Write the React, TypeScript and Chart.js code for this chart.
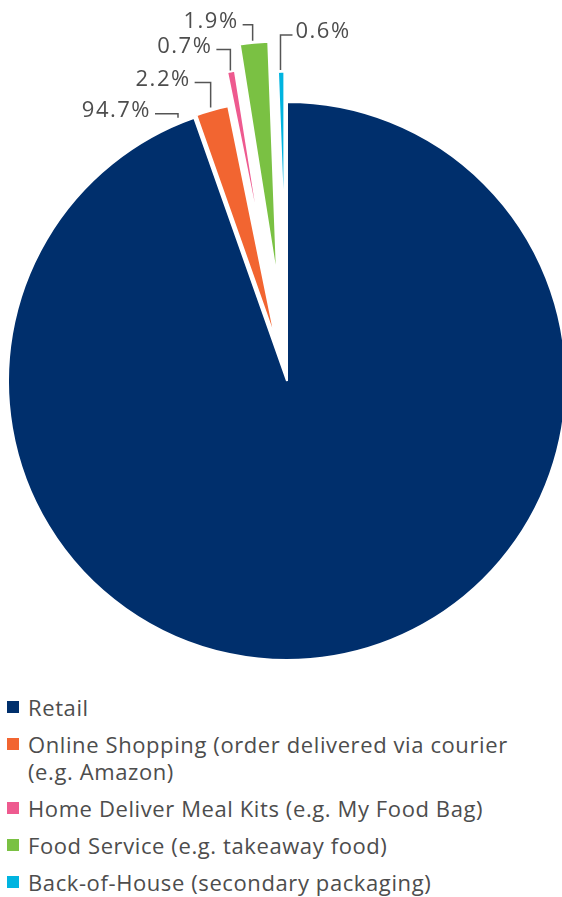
import React, { useEffect, useRef } from 'react';
import { Chart, registerables } from 'chart.js';

Chart.register(...registerables);

// ---- data ----
const categories = [
  'Retail',
  'Online Shopping (order delivered via courier (e.g. Amazon)',
  'Home Deliver Meal Kits (e.g. My Food Bag)',
  'Food Service (e.g. takeaway food)',
  'Back-of-House (secondary packaging)',
];
const shares = [94.7, 2.2, 0.7, 1.9, 0.6];
const valueLabels = ['94.7%', '2.2%', '0.7%', '1.9%', '0.6%'];

// ---- style ----
const colors = ['#002F6C', '#F26531', '#EE5A8F', '#7AC143', '#00B4E0'];
const explodeOffset = [0, 41, 136, 100, 139];
const radiusScale = [1, 0.86, 0.64, 0.86, 0.61];
const labelFrac = [0.991, 0.48, 0.44, 0.46, 0.4];
const labelGap = [6, 3, 1, 2, 2];
const labelRise = [4, 25, 21, 16, 35];
const labelRun = [-23, -16, -14, -10, 12];

const FONT = "'Open Sans', sans-serif";
const TEXT_COLOR = '#4d4d4d';

const explodePlugin = {
  id: 'explodeSlices',
  afterDatasetsUpdate(chart: any) {
    const meta = chart.getDatasetMeta(0);
    meta.data.forEach((el: any, i: number) => {
      const mid = (el.startAngle + el.endAngle) / 2;
      const R = el.outerRadius;
      el.x = el.x + Math.cos(mid) * explodeOffset[i];
      el.y = el.y + Math.sin(mid) * explodeOffset[i];
      el.outerRadius = R * radiusScale[i];
    });
  },
};

const leaderLabelPlugin = {
  id: 'leaderLabels',
  afterDatasetsDraw(chart: any) {
    const ctx = chart.ctx;
    const meta = chart.getDatasetMeta(0);
    ctx.save();
    ctx.strokeStyle = '#555555';
    ctx.lineWidth = 1.5;
    ctx.fillStyle = TEXT_COLOR;
    ctx.font = `400 22px ${FONT}`;
    try {
      (ctx as any).letterSpacing = '1.5px';
    } catch (e) {}
    ctx.textBaseline = 'alphabetic';
    meta.data.forEach((el: any, i: number) => {
      const a = el.startAngle + labelFrac[i] * (el.endAngle - el.startAngle);
      const r = el.outerRadius + labelGap[i];
      const px = el.x + Math.cos(a) * r;
      const py = el.y + Math.sin(a) * r;
      const ey = py - labelRise[i];
      const ex = px + labelRun[i];
      ctx.beginPath();
      ctx.moveTo(px, py);
      ctx.lineTo(px, ey);
      ctx.lineTo(ex, ey);
      ctx.stroke();
      if (labelRun[i] < 0) {
        ctx.textAlign = 'right';
        ctx.fillText(valueLabels[i], ex - 4, ey + 3);
      } else {
        ctx.textAlign = 'left';
        ctx.fillText(valueLabels[i], ex + 3, ey + 3);
      }
    });
    ctx.restore();
  },
};

export default function App() {
  const ref = useRef<HTMLCanvasElement | null>(null);

  useEffect(() => {
    if (!ref.current) return;
    const chart = new Chart(ref.current, {
      type: 'pie',
      data: {
        labels: categories,
        datasets: [
          {
            data: shares,
            backgroundColor: colors,
            borderColor: '#ffffff',
            borderWidth: 2,
          },
        ],
      },
      options: {
        responsive: false,
        maintainAspectRatio: false,
        animation: false,
        events: [],
        layout: { padding: { top: 101, bottom: 11, left: 0, right: 0 } },
        plugins: {
          legend: { display: false },
          tooltip: { enabled: false },
        },
      },
      plugins: [explodePlugin, leaderLabelPlugin],
    });
    return () => chart.destroy();
  }, []);

  return (
    <div
      style={{
        position: 'absolute',
        left: 0,
        top: 0,
        width: 562,
        height: 897,
        overflow: 'hidden',
        background: '#ffffff',
      }}
    >
      <canvas
        ref={ref}
        width={574}
        height={672}
        style={{ display: 'block', width: 574, height: 672 }}
      />
      <div
        style={{
          position: 'absolute',
          left: 7,
          top: 694,
          width: 520,
          fontFamily: FONT,
          fontSize: 22,
          letterSpacing: '0.6px',
          lineHeight: '27px',
          color: TEXT_COLOR,
        }}
      >
        {categories.map((c, i) => (
          <div key={c} style={{ display: 'flex', alignItems: 'flex-start', marginBottom: 10 }}>
            <span
              style={{
                display: 'inline-block',
                width: 12,
                height: 12,
                marginTop: 7,
                marginRight: 9,
                flex: '0 0 auto',
                background: colors[i],
              }}
            />
            <span style={{ flex: '1 1 auto' }}>{c}</span>
          </div>
        ))}
      </div>
    </div>
  );
}
